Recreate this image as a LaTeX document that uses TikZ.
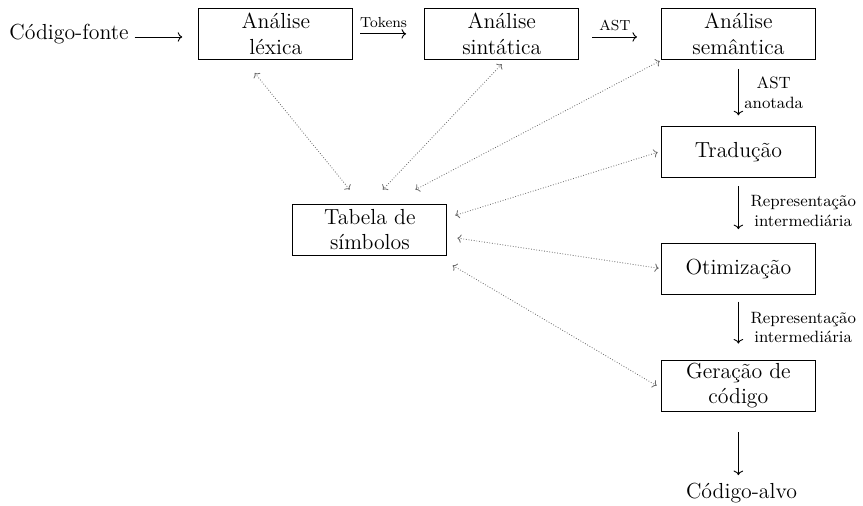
\documentclass[tikz,border=0pt]{standalone}
\usepackage{amsmath,amssymb}
\usepackage{xcolor}
\usepackage{tikz}
\usetikzlibrary{calc,arrows.meta}
\definecolor{ink}{HTML}{000000}
\definecolor{muted}{HTML}{6B6B6B}
\tikzset{
  phase/.style={draw=ink, line width=0.6pt, minimum width=2.98cm, minimum height=0.99cm,
    inner xsep=2pt, inner ysep=0.5pt, align=center, font=\large},
  ends/.style={font=\large, inner sep=2pt},
  flow/.style={draw=ink, line width=0.5pt, -{To[length=2.5pt]}},
  symlink/.style={draw=muted, line width=0.45pt, densely dotted,
    {To[length=2.2pt]}-{To[length=2.2pt]}},
  lab/.style={font=\footnotesize, inner sep=3pt},
  vlab/.style={font=\small, align=center, inner sep=3pt},
}

\begin{document}
\begin{tikzpicture}
  \useasboundingbox (0,0) rectangle (16.69,9.77);

  \node[ends]  (src) at (1.334,9.115) {Código-fonte};
  \node[phase] (lex) at (5.335,9.115) {Análise\\léxica};
  \node[phase] (sin) at (9.704,9.115) {Análise\\sintática};
  \node[phase] (sem) at (14.28,9.115) {Análise\\semântica};
  \node[phase] (tra) at (14.28,6.824) {Tradução};
  \node[phase] (oti) at (14.28,4.562) {Otimização};
  \node[phase] (ger) at (14.28,2.310) {Geração de\\código};
  \node[ends]  (tgt) at (14.34,0.232) {Código-alvo};
  \node[phase] (tab) at (7.153,5.326) {Tabela de\\símbolos};

  % main pipeline
  \draw[flow, shorten <=0.04cm, shorten >=0.31cm] ($(src.east)+(0,-0.06)$) -- ($(lex.west)+(0,-0.06)$);
  \draw[flow, shorten <=0.135cm, shorten >=0.35cm] (lex.east) -- (sin.west)
    node[lab, midway, above, xshift=-0.1cm] {Tokens};
  \draw[flow, shorten <=0.25cm, shorten >=0.46cm] ($(sin.east)+(0,-0.06)$) -- ($(sem.west)+(0,-0.06)$)
    node[lab, midway, above, xshift=-0.1cm] {AST};
  \draw[flow, shorten <=0.17cm, shorten >=0.21cm] (sem.south) -- (tra.north)
    node[vlab, midway, right] {AST\\anotada};
  \draw[flow, shorten <=0.15cm, shorten >=0.27cm] (tra.south) -- (oti.north)
    node[vlab, midway, right, xshift=0.12cm] {Representação\\intermediária};
  \draw[flow, shorten <=0.12cm, shorten >=0.31cm] (oti.south) -- (ger.north)
    node[vlab, midway, right, xshift=0.12cm] {Representação\\intermediária};
  \draw[flow, shorten <=0.39cm, shorten >=0.08cm] (ger.south) -- (ger.south |- tgt.north);

  % symbol table access
  \draw[symlink] ($(lex.south)+(-0.41,-0.25)$) -- ($(tab.north)+(-0.39,0.27)$);
  \draw[symlink] ($(sin.south)+(0,-0.08)$) -- ($(tab.north)+(0.25,0.27)$);
  \draw[symlink] ($(sem.south west)+(-0.02,-0.02)$) -- ($(tab.north east)+(-0.62,0.27)$);
  \draw[symlink] ($(tra.west)+(-0.06,0)$) -- ($(tab.east)+(0.15,0.28)$);
  \draw[symlink] ($(tab.east)+(0.19,-0.16)$) -- ($(oti.west)+(-0.04,0.02)$);
  \draw[symlink] ($(tab.east)+(0.10,-0.69)$) -- ($(ger.west)+(-0.08,0)$);
\end{tikzpicture}
\end{document}
